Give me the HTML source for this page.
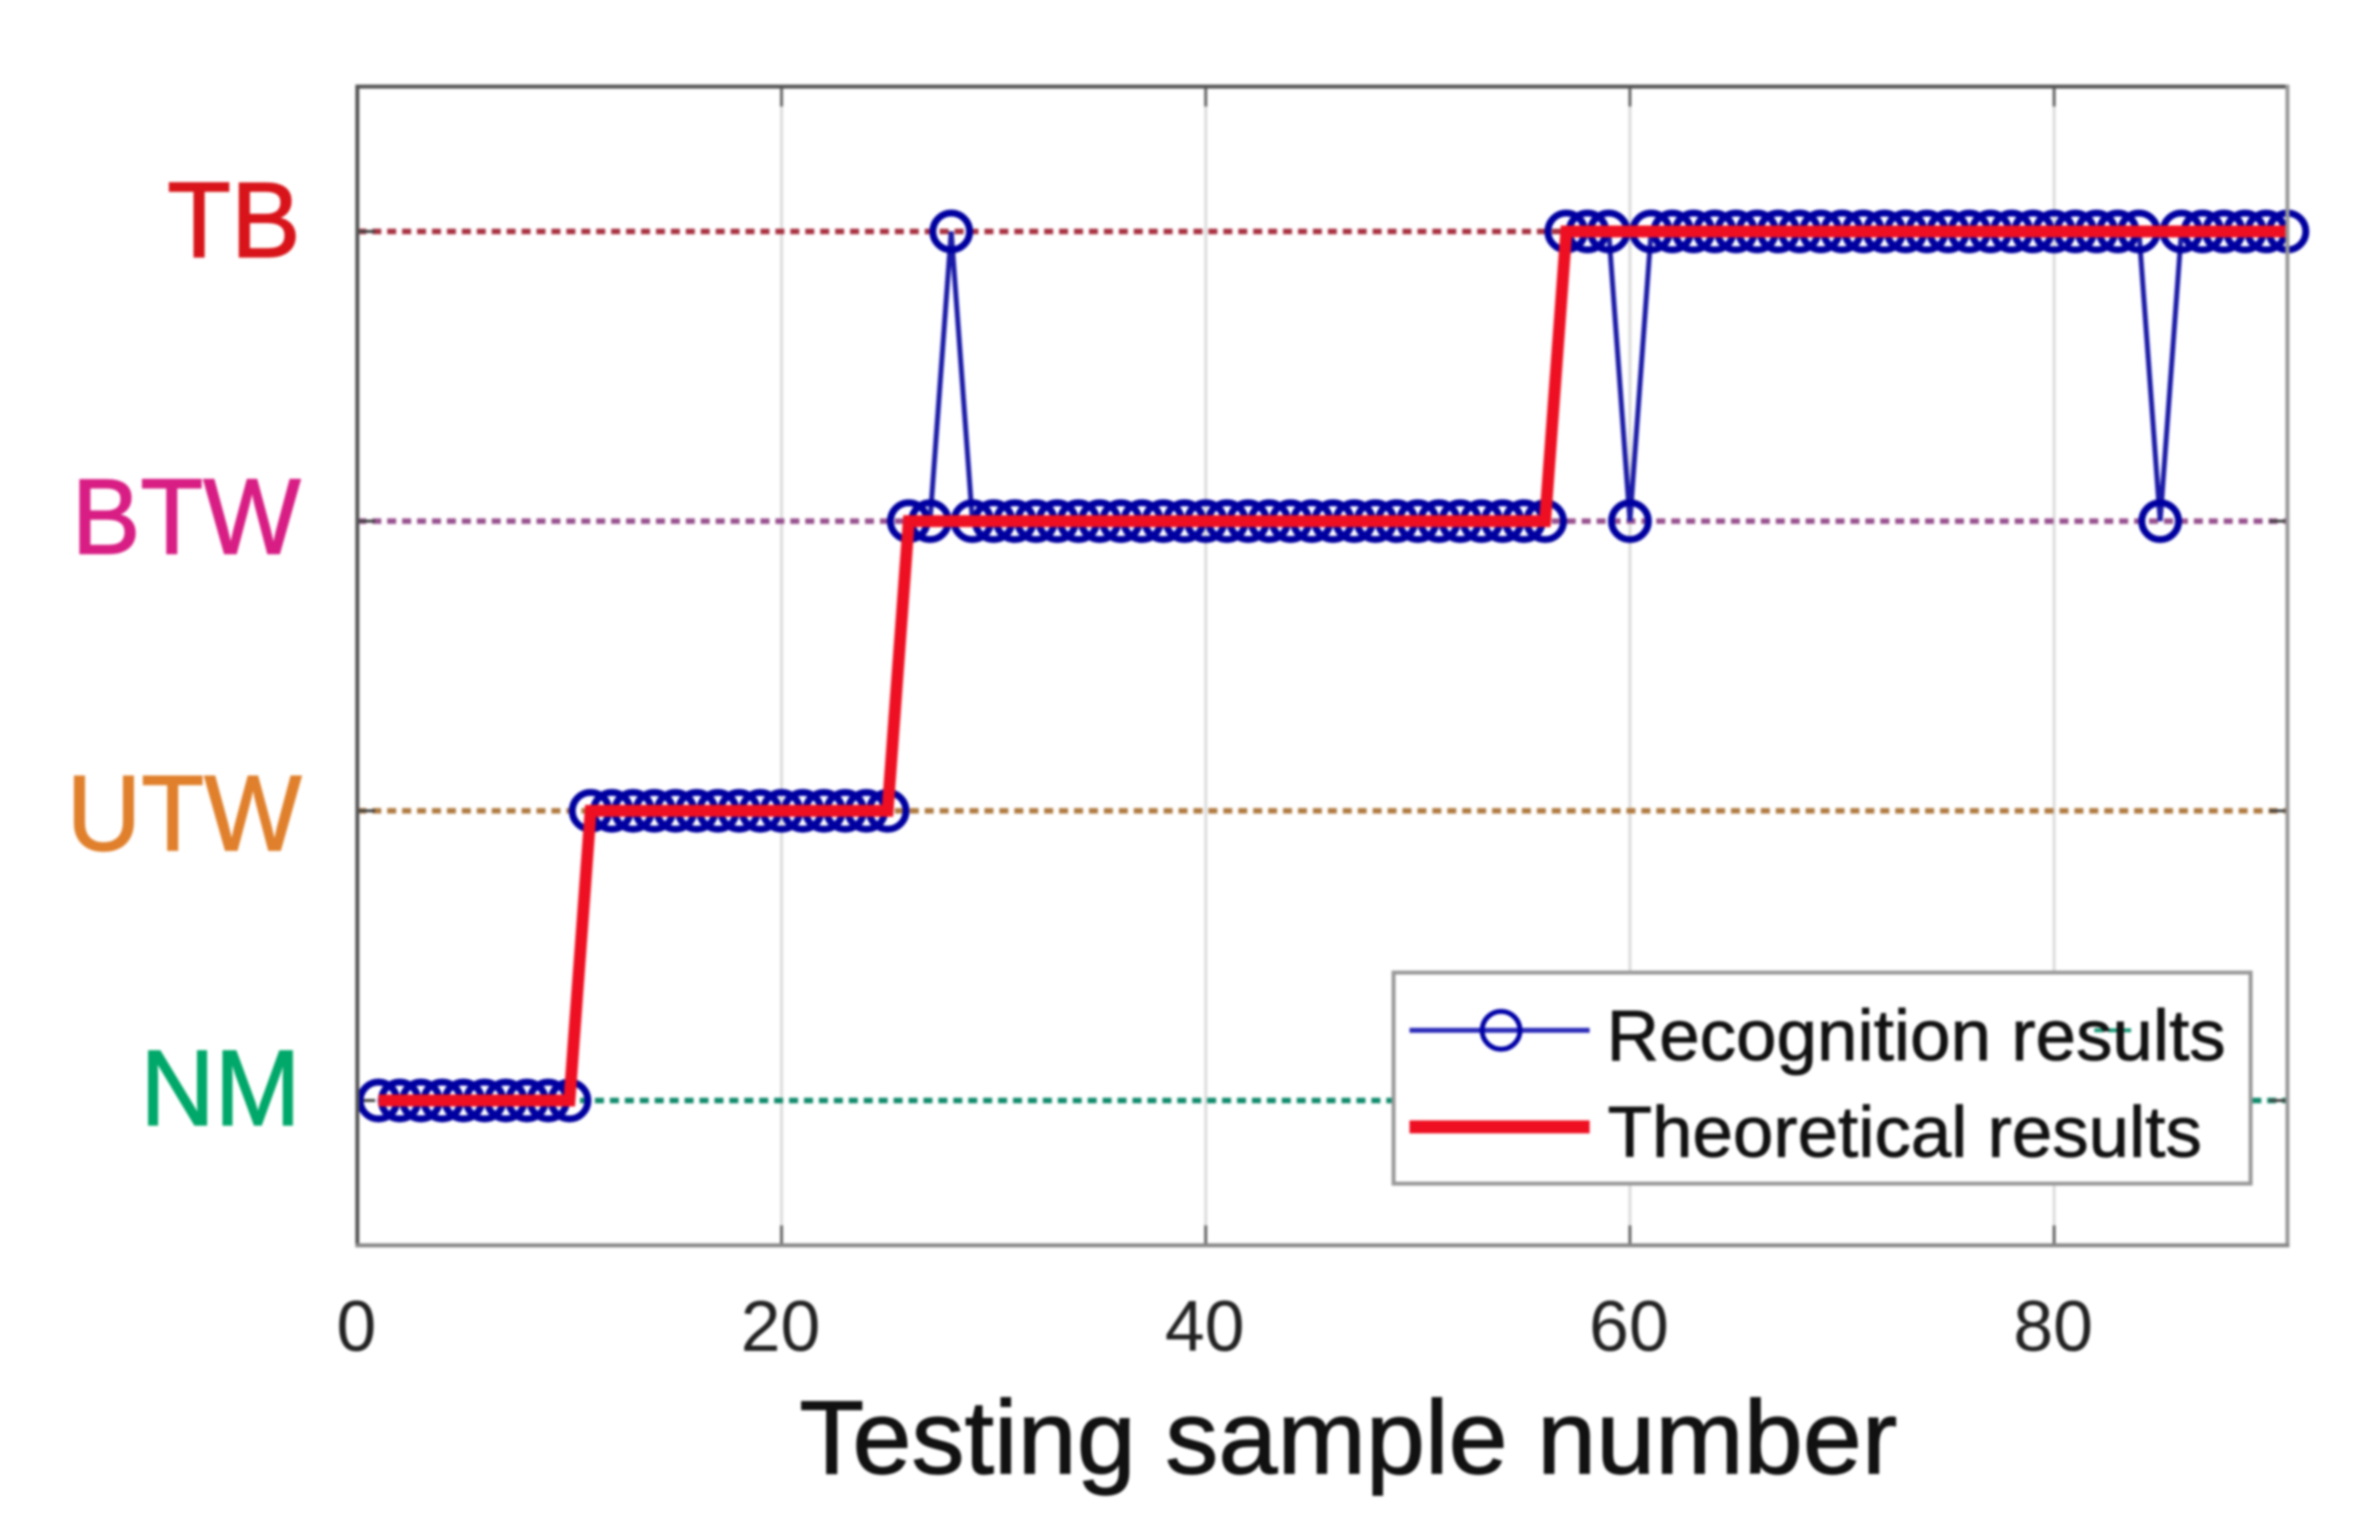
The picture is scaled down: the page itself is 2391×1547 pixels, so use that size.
<!DOCTYPE html>
<html lang="en">
<head>
<meta charset="utf-8">
<title>Testing sample recognition chart</title>
<style>
html,body{margin:0;padding:0;background:#fff;width:2391px;height:1547px;overflow:hidden}
svg{display:block;filter:blur(1.2px)}
text{font-family:"Liberation Sans",Arial,sans-serif}
</style>
</head>
<body>
<svg id="chart" xmlns="http://www.w3.org/2000/svg" width="2391" height="1547" viewBox="0 0 2391 1547">
  <rect x="0" y="0" width="2391" height="1547" fill="#fff"/>
  <g id="grid"></g>
  <g id="guides"></g>
  <g id="ticks"></g>
  <g id="recognition"></g>
  <g id="theoretical"></g>
  <g>
    <line x1="359" y1="85" x2="359" y2="1253" stroke="#555" stroke-width="4"/>
    <line x1="357" y1="87" x2="2300" y2="87" stroke="#555" stroke-width="4"/>
    <line x1="2298" y1="85" x2="2298" y2="1253" stroke="#999" stroke-width="4"/>
    <line x1="357" y1="1251" x2="2300" y2="1251" stroke="#888" stroke-width="4"/>
  </g>
  <g id="xlabels"></g>
  <g id="ylabels"></g>
  <text x="803" y="1480" font-size="105" fill="#111" stroke="#111" stroke-width="1.2" textLength="1103" lengthAdjust="spacingAndGlyphs">Testing sample number</text>
  <g>
    <rect x="1400" y="977" width="861" height="212" fill="#fff" stroke="#999" stroke-width="4"/>
    <line x1="1416" y1="1035" x2="1597" y2="1035" stroke="#2a2ab8" stroke-width="5"/>
    <circle cx="1508" cy="1035" r="19" fill="none" stroke="#0000a8" stroke-width="5"/>
    <line x1="2104" y1="1035" x2="2146" y2="1035" stroke="#1a9a78" stroke-width="4" stroke-dasharray="9 5"/>
    <text x="1614" y="1065" font-size="72" fill="#111" stroke="#111" stroke-width="0.8" textLength="622" lengthAdjust="spacingAndGlyphs">Recognition results</text>
    <line x1="1416" y1="1132" x2="1597" y2="1132" stroke="#ee0f22" stroke-width="13"/>
    <text x="1615" y="1162" font-size="72" fill="#111" stroke="#111" stroke-width="0.8" textLength="597" lengthAdjust="spacingAndGlyphs">Theoretical results</text>
  </g>
</svg>
<script>
const xTicks = [0, 20, 40, 60, 80];
const classNames = ['NM', 'UTW', 'BTW', 'TB'];
const classLevels = [1, 2, 3, 4];
const classColors = ['#00a86a', '#e0802c', '#d81e84', '#d8141a'];
const guideColors = ['#0e8a6a', '#b07a40', '#98508e', '#a83040'];
const recognitionResults = [
  1,1,1,1,1,1,1,1,1,1,
  2,2,2,2,2,2,2,2,2,2,
  2,2,2,2,2,3,3,4,3,3,
  3,3,3,3,3,3,3,3,3,3,
  3,3,3,3,3,3,3,3,3,3,
  3,3,3,3,3,3,4,4,4,3,
  4,4,4,4,4,4,4,4,4,4,
  4,4,4,4,4,4,4,4,4,4,
  4,4,4,4,3,4,4,4,4,4,
  4
];
const theoreticalResults = [
  1,1,1,1,1,1,1,1,1,1,
  2,2,2,2,2,2,2,2,2,2,
  2,2,2,2,2,3,3,3,3,3,
  3,3,3,3,3,3,3,3,3,3,
  3,3,3,3,3,3,3,3,3,3,
  3,3,3,3,3,3,4,4,4,4,
  4,4,4,4,4,4,4,4,4,4,
  4,4,4,4,4,4,4,4,4,4,
  4,4,4,4,4,4,4,4,4,4,
  4
];

const NS = 'http://www.w3.org/2000/svg';
const xMin = 0, xMax = 91, yMin = 0.5, yMax = 4.5;
const left = 359, right = 2298, top_ = 87, bottom = 1251;
function xScale(v) { return left + (v - xMin) / (xMax - xMin) * (right - left); }
function yScale(v) { return bottom - (v - yMin) / (yMax - yMin) * (bottom - top_); }
function make(tag, attrs, parent) {
  const el = document.createElementNS(NS, tag);
  for (const k in attrs) el.setAttribute(k, attrs[k]);
  parent.appendChild(el);
  return el;
}
const grid = document.getElementById('grid');
const guides = document.getElementById('guides');
const ticks = document.getElementById('ticks');
const xlabels = document.getElementById('xlabels');
const ylabels = document.getElementById('ylabels');
const recognition = document.getElementById('recognition');
const theoretical = document.getElementById('theoretical');

xTicks.forEach(function (t) {
  const x = xScale(t);
  if (t !== 0) {
    const g = make('line', {x1: x, y1: top_, x2: x, y2: bottom, stroke: '#dcdcdc', 'stroke-width': 3}, grid);
    
    
    const a = make('line', {x1: x, y1: top_, x2: x, y2: top_ + 20, stroke: '#666', 'stroke-width': 3}, ticks);
    
    
    const b = make('line', {x1: x, y1: bottom, x2: x, y2: bottom - 20, stroke: '#666', 'stroke-width': 3}, ticks);
    
    
  }
  const lab = make('text', {x: x - 1, y: 1357, 'font-size': 72, fill: '#222', 'text-anchor': 'middle'}, xlabels);
  
  
  lab.textContent = String(t);
});

const labelBoxes = [[141, 161, 1130], [67, 236, 854], [72, 230, 556], [168, 134, 258]];
classLevels.forEach(function (lv, i) {
  const y = yScale(lv);
  const startX = i === 0 ? xScale(10.5) : left;
  const d = make('line', {x1: startX, y1: y, x2: right, y2: y, stroke: guideColors[i], 'stroke-width': 5.5, 'stroke-dasharray': '9 6'}, guides);
  
  
  const tl = make('line', {x1: left, y1: y, x2: left + 18, y2: y, stroke: '#444', 'stroke-width': 3}, ticks);
  
  
  const tr = make('line', {x1: right, y1: y, x2: right - 18, y2: y, stroke: '#444', 'stroke-width': 3}, ticks);
  
  
  const box = labelBoxes[i];
  const lab = make('text', {x: box[0], y: box[2], 'font-size': 108, fill: classColors[i], stroke: classColors[i], 'stroke-width': 1.5, textLength: box[1], lengthAdjust: 'spacingAndGlyphs'}, ylabels);
  
  
  lab.textContent = classNames[i];
});

function pointsOf(arr) {
  return arr.map(function (v, i) { return xScale(i + 1).toFixed(2) + ',' + yScale(v).toFixed(2); }).join(' ');
}
const recLine = make('polyline', {points: pointsOf(recognitionResults), fill: 'none', stroke: '#1a1aa8', 'stroke-width': 5}, recognition);


recognitionResults.forEach(function (v, i) {
  const c = make('circle', {cx: xScale(i + 1), cy: yScale(v), r: 18.5, fill: 'none', stroke: '#0000a0', 'stroke-width': 7}, recognition);
  
  
});
const theoLine = make('polyline', {points: pointsOf(theoreticalResults), fill: 'none', stroke: '#ee0f22', 'stroke-width': 12, 'stroke-linejoin': 'miter'}, theoretical);


</script>
</body>
</html>
